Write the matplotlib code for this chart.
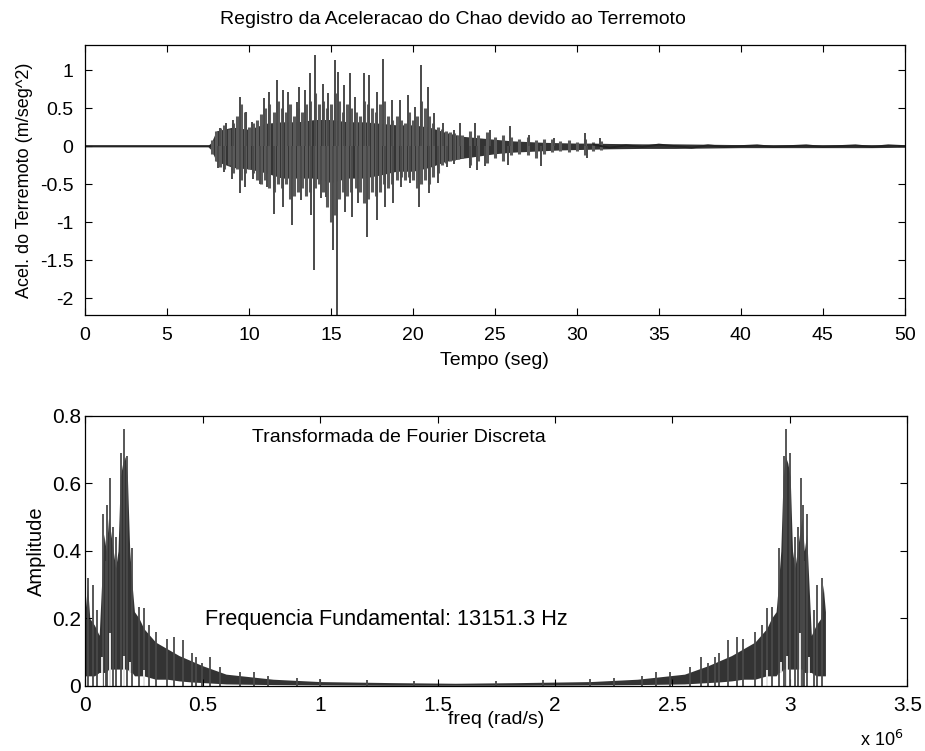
import numpy as np
import matplotlib
matplotlib.use("Agg")
import matplotlib.pyplot as plt
from matplotlib.ticker import FormatStrFormatter, MultipleLocator

plt.rcParams['font.family'] = ['Liberation Sans', 'DejaVu Sans']
plt.rcParams['axes.unicode_minus'] = False

# ---------------- data: top panel (acceleration record) ----------------
core_t = [0, 7.5, 7.7, 8, 9, 10, 11, 12, 13, 14, 15, 16, 17, 18, 19, 20, 21, 22,
          23, 24, 25, 26, 27, 28, 29, 30, 31, 32, 34, 36, 38, 40, 42, 44, 46, 48, 50]
core_hi = [0.01, 0.01, 0.05, 0.2, 0.25, 0.22, 0.3, 0.32, 0.32, 0.35, 0.35, 0.32, 0.32,
           0.3, 0.28, 0.28, 0.25, 0.18, 0.13, 0.11, 0.09, 0.07, 0.06, 0.05, 0.045, 0.04,
           0.04, 0.035, 0.03, 0.03, 0.025, 0.02, 0.02, 0.02, 0.02, 0.02, 0.015]
core_lo = [-0.01, -0.01, -0.05, -0.2, -0.28, -0.3, -0.35, -0.42, -0.42, -0.42, -0.48,
           -0.42, -0.42, -0.38, -0.33, -0.33, -0.28, -0.2, -0.16, -0.13, -0.1, -0.08,
           -0.07, -0.06, -0.05, -0.045, -0.04, -0.035, -0.03, -0.03, -0.025, -0.02,
           -0.02, -0.02, -0.02, -0.02, -0.015]

# textured envelope of the dense part of the record
outer_t = [7.75, 8.0, 8.25, 8.5, 8.75, 9.0, 9.25, 9.5, 9.75, 10.0, 10.25, 10.5, 10.75,
           11.0, 11.25, 11.5, 11.75, 12.0, 12.25, 12.5, 12.75, 13.0, 13.25, 13.5,
           13.75, 14.0, 14.25, 14.5, 14.75, 15.0, 15.25, 15.5, 15.75, 16.0, 16.25,
           16.5, 16.75, 17.0, 17.25, 17.5, 17.75, 18.0, 18.25, 18.5, 18.75, 19.0,
           19.25, 19.5, 19.75, 20.0, 20.25, 20.5, 20.75, 21.0, 21.25, 21.5, 21.75,
           22.0, 22.25, 22.5, 22.75, 23.0, 23.5, 24.0, 24.5, 25.0, 25.5, 26.0, 26.5,
           27.0, 27.5, 28.0, 28.5, 29.0, 29.5, 30.0, 30.5, 31.0, 31.5]
outer_hi = [0.08, 0.2, 0.24, 0.28, 0.22, 0.3, 0.4, 0.55, 0.45, 0.25, 0.3, 0.35, 0.42,
            0.5, 0.55, 0.45, 0.6, 0.5, 0.45, 0.55, 0.4, 0.5, 0.45, 0.55, 0.6, 0.7,
            0.55, 0.6, 0.5, 0.55, 0.7, 0.6, 0.45, 0.55, 0.5, 0.45, 0.4, 0.6, 0.55,
            0.5, 0.45, 0.55, 0.6, 0.4, 0.35, 0.4, 0.35, 0.3, 0.45, 0.35, 0.4, 0.6,
            0.5, 0.4, 0.3, 0.25, 0.22, 0.2, 0.18, 0.17, 0.15, 0.14, 0.2, 0.15, 0.18,
            0.12, 0.15, 0.12, 0.1, 0.12, 0.08, 0.1, 0.09, 0.07, 0.08, 0.06, 0.1,
            0.06, 0.07]
outer_lo = [-0.1, -0.2, -0.27, -0.3, -0.25, -0.35, -0.3, -0.45, -0.35, -0.3, -0.35,
            -0.45, -0.5, -0.45, -0.55, -0.6, -0.5, -0.55, -0.5, -0.7, -0.65, -0.6,
            -0.55, -0.65, -0.6, -0.55, -0.5, -0.6, -0.8, -1.0, -0.9, -0.7, -0.6,
            -0.65, -0.6, -0.55, -0.6, -0.75, -0.7, -0.6, -0.65, -0.6, -0.5, -0.55,
            -0.5, -0.45, -0.4, -0.45, -0.4, -0.45, -0.55, -0.5, -0.45, -0.5, -0.4,
            -0.35, -0.25, -0.22, -0.2, -0.18, -0.17, -0.15, -0.25, -0.2, -0.22,
            -0.15, -0.2, -0.12, -0.1, -0.12, -0.15, -0.1, -0.08, -0.07, -0.08,
            -0.07, -0.12, -0.06, -0.05]

pos_spike_t = [8.2, 8.6, 9.0, 9.45, 9.8, 10.2, 10.9, 11.2, 11.7, 12.05, 12.4, 12.9,
               13.07, 13.4, 13.7, 14.0, 14.5, 14.8, 15.24, 15.45, 15.8, 16.16, 16.46,
               17.0, 17.34, 17.8, 18.2, 18.7, 19.2, 19.7, 20.1, 20.5, 20.9, 21.3,
               21.85, 22.5, 22.9, 23.8, 24.7, 25.9, 27.1, 28.6, 30.5, 31.4]
pos_spike_v = [0.24, 0.30, 0.35, 0.65, 0.45, 0.32, 0.63, 0.71, 0.87, 0.74, 0.71, 0.58,
               0.78, 0.74, 0.96, 1.2, 0.82, 0.7, 1.13, 0.98, 0.8, 0.96, 0.65, 0.96,
               0.93, 0.71, 1.15, 0.61, 0.61, 0.67, 0.52, 1.07, 0.78, 0.43, 0.30, 0.21,
               0.30, 0.30, 0.21, 0.26, 0.14, 0.11, 0.17, 0.11]
neg_spike_t = [8.1, 8.5, 8.95, 9.45, 9.76, 10.25, 10.7, 11.1, 11.5, 12.1, 12.6, 13.2,
               13.8, 13.96, 14.4, 14.7, 15.1, 15.38, 15.85, 16.26, 16.67, 17.18, 17.8,
               18.3, 18.8, 19.3, 19.8, 20.4, 21.0, 21.5, 22.05, 22.5, 23.5, 23.9, 24.4,
               25.8, 27.8, 30.6]
neg_spike_v = [-0.29, -0.34, -0.43, -0.62, -0.54, -0.43, -0.5, -0.54, -0.89, -0.80,
               -1.04, -0.71, -0.91, -1.63, -0.68, -0.67, -1.37, -2.22, -0.86, -0.93,
               -0.75, -1.19, -0.97, -0.80, -0.75, -0.54, -0.49, -0.80, -0.62, -0.49,
               -0.27, -0.23, -0.29, -0.32, -0.26, -0.25, -0.26, -0.16]

tail_t = [31, 32, 33, 34, 35, 36, 37, 38, 39, 40, 41, 42, 43, 44, 45, 46, 47, 48, 49, 50]
tail_v = [0.02, -0.02, 0.01, -0.01, 0.02, 0.0, -0.02, 0.01, -0.01, 0.0, 0.01, -0.01,
          0.0, 0.01, -0.01, 0.0, 0.01, -0.01, 0.01, 0.0]

# ---------------- data: bottom panel (DFT amplitude, first half) ----------------
f_end = 3.151  # x 1e6 rad/s, last frequency of the spectrum
spec_core_f = [0, 0.01, 0.02, 0.04, 0.06, 0.07, 0.08, 0.09, 0.1, 0.11, 0.12, 0.13,
               0.14, 0.15, 0.16, 0.17, 0.18, 0.19, 0.2, 0.21, 0.23, 0.25, 0.3, 0.35,
               0.4, 0.45, 0.5, 0.6, 0.8, 1.0, 1.3, 1.5755]
spec_core_hi = [0.22, 0.3, 0.2, 0.18, 0.15, 0.3, 0.45, 0.4, 0.5, 0.45, 0.4, 0.35,
                0.4, 0.62, 0.66, 0.68, 0.62, 0.4, 0.3, 0.22, 0.2, 0.17, 0.13, 0.11,
                0.09, 0.075, 0.06, 0.035, 0.02, 0.013, 0.01, 0.008]
spec_core_lo = [0.03, 0.03, 0.03, 0.03, 0.04, 0.04, 0.04, 0.04, 0.05, 0.05, 0.05,
                0.05, 0.05, 0.05, 0.05, 0.05, 0.05, 0.04, 0.04, 0.03, 0.03, 0.03,
                0.02, 0.02, 0.015, 0.012, 0.01, 0.006, 0.004, 0.003, 0.002, 0.002]
spec_spike_f = [0.014, 0.035, 0.05, 0.078, 0.09, 0.095, 0.104, 0.118, 0.13, 0.152,
                0.166, 0.178, 0.199, 0.228, 0.249, 0.27, 0.30, 0.349, 0.377, 0.415,
                0.455, 0.47, 0.498, 0.53, 0.576, 0.66, 0.72, 0.78, 0.9, 1.0, 1.2, 1.4]
spec_spike_a = [0.32, 0.30, 0.225, 0.51, 0.37, 0.536, 0.615, 0.47, 0.44, 0.69, 0.76,
                0.68, 0.41, 0.235, 0.23, 0.18, 0.16, 0.14, 0.146, 0.136, 0.097, 0.087,
                0.067, 0.087, 0.057, 0.042, 0.042, 0.03, 0.025, 0.02, 0.018, 0.015]
dip_f = [0.071, 0.107, 0.164, 0.19, 0.249]
dip_a = [0.087, 0.157, 0.09, 0.07, 0.047]


# mirrored second half (DFT symmetry)
def mirror(f, a):
    f = np.asarray(f); a = np.asarray(a)
    return np.concatenate([f, f_end - f[::-1]]), np.concatenate([a, a[::-1]])


cf, chi = mirror(spec_core_f, spec_core_hi)
_, clo = mirror(spec_core_f, spec_core_lo)
sf, sa = mirror(spec_spike_f, spec_spike_a)
df, da = mirror(dip_f, dip_a)

# ---------------- figure ----------------
fig = plt.figure(figsize=(9.25, 7.51), dpi=100)
ax1 = fig.add_axes([0.092, 0.5806, 0.886, 0.3595])
ax2 = fig.add_axes([0.092, 0.0866, 0.889, 0.3595])

dark = '#333333'
mid = '#4a4a4a'
FS = 14

# top panel
ax1.plot([0, 7.7], [0, 0], color='#222222', lw=1.2)
ax1.vlines(outer_t, outer_lo, outer_hi, color='#5a5a5a', lw=2.2)
ax1.fill_between(core_t, core_lo, core_hi, color=dark, lw=0)
ax1.vlines(pos_spike_t, 0, pos_spike_v, color=mid, lw=1.4)
ax1.vlines(neg_spike_t, 0, neg_spike_v, color=mid, lw=1.4)
ax1.plot(tail_t, tail_v, color='#222222', lw=1.4)
ax1.set_xlim(0, 50)
ax1.set_ylim(-2.22, 1.33)
ax1.xaxis.set_major_locator(MultipleLocator(5))
ax1.yaxis.set_major_locator(MultipleLocator(0.5))
ax1.yaxis.set_major_formatter(FormatStrFormatter('%g'))
ax1.set_title('Registro da Aceleracao do Chao devido ao Terremoto', fontsize=FS,
              pad=15, x=0.449)
ax1.set_xlabel('Tempo (seg)', fontsize=FS, labelpad=6)
ax1.set_ylabel('Acel. do Terremoto (m/seg^2)', fontsize=13, labelpad=5)
ax1.tick_params(direction='in', top=True, right=True, length=5, width=0.8,
                labelsize=FS, pad=8.5)

# bottom panel
ax2.fill_between(cf, clo, chi, color=dark, lw=0)
ax2.vlines(sf, 0, sa, color=mid, lw=1.3)
ax2.vlines(df, 0, da, color='white', lw=1.2)
ax2.set_xlim(0, 3.5)
ax2.set_ylim(0, 0.8)
ax2.xaxis.set_major_locator(MultipleLocator(0.5))
ax2.yaxis.set_major_locator(MultipleLocator(0.2))
ax2.xaxis.set_major_formatter(FormatStrFormatter('%g'))
ax2.yaxis.set_major_formatter(FormatStrFormatter('%g'))
ax2.set_xlabel('freq (rad/s)', fontsize=FS, labelpad=-3)
ax2.set_ylabel('Amplitude', fontsize=14.5, labelpad=4)
ax2.text(0.382, 0.922, 'Transformada de Fourier Discreta', transform=ax2.transAxes,
         ha='center', va='center', fontsize=FS)
ax2.text(0.512, 0.196, 'Frequencia Fundamental: 13151.3 Hz', ha='left', va='center',
         fontsize=15.6)
ax2.text(0.995, -0.2, 'x 10$^6$', transform=ax2.transAxes, ha='right', va='center',
         fontsize=FS - 1)
ax2.tick_params(direction='in', top=True, right=True, length=5, width=0.8,
                labelsize=15)
ax2.tick_params(axis='x', pad=7.5)
ax2.tick_params(axis='y', pad=3)

for ax in (ax1, ax2):
    for s in ax.spines.values():
        s.set_linewidth(0.9)

fig.savefig('out.png', dpi=100)
